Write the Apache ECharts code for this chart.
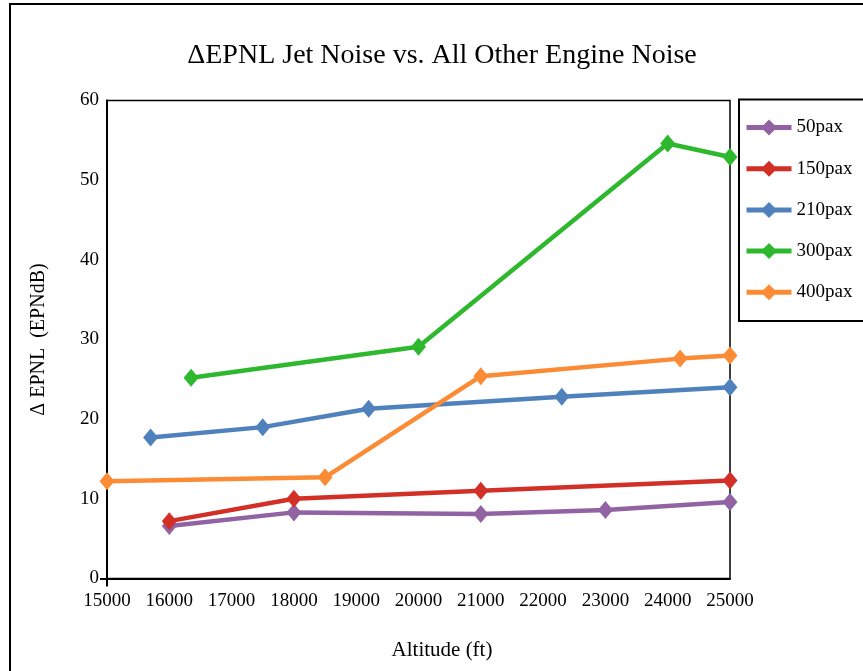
<!DOCTYPE html>
<html>
<head>
<meta charset="utf-8">
<script src="https://cdn.jsdelivr.net/npm/echarts@6/dist/echarts.min.js"></script>
<style>
html,body{margin:0;padding:0;background:#fff;}
#c{width:863px;height:671px;}
</style>
</head>
<body>
<div id="c"></div>
<script>
// ---- data ----
const seriesNames = ['50pax', '150pax', '210pax', '300pax', '400pax'];
const alt50  = [16000, 18000, 21000, 23000, 25000];
const val50  = [6.6, 8.3, 8.1, 8.6, 9.6];
const alt150 = [16000, 18000, 21000, 25000];
const val150 = [7.2, 10.0, 11.0, 12.3];
const alt210 = [15700, 17500, 19200, 22300, 25000];
const val210 = [17.7, 19.0, 21.3, 22.8, 24.0];
const alt300 = [16350, 20000, 24000, 25000];
const val300 = [25.2, 29.1, 54.6, 52.9];
const alt400 = [15000, 18500, 21000, 24200, 25000];
const val400 = [12.2, 12.7, 25.4, 27.6, 28.0];
const xTicks = [15000, 16000, 17000, 18000, 19000, 20000, 21000, 22000, 23000, 24000, 25000];
const yTicks = [0, 10, 20, 30, 40, 50, 60];

const altArrays = [alt50, alt150, alt210, alt300, alt400];
const valArrays = [val50, val150, val210, val300, val400];
const colors = ['#9163a3', '#d22f27', '#4f81bd', '#2eb82e', '#fb8c35'];

const FONT = '"Liberation Serif", "Times New Roman", serif';

const chart = echarts.init(document.getElementById('c'), null, {renderer: 'canvas'});

const series = seriesNames.map((name, i) => ({
  name: name,
  type: 'line',
  data: altArrays[i].map((a, j) => [a, valArrays[i][j]]),
  symbol: 'diamond',
  symbolSize: [15, 18],
  lineStyle: {width: 4.5, color: colors[i]},
  itemStyle: {color: colors[i]},
  emphasis: {disabled: true},
  z: 3 + i
}));

chart.setOption({
  animation: false,
  backgroundColor: '#fff',
  title: {
    text: 'ΔEPNL Jet Noise vs. All Other Engine Noise',
    left: 437, textAlign: 'center',
    top: 37,
    textStyle: {fontFamily: FONT, fontSize: 28, fontWeight: 'normal', color: '#000'}
  },
  legend: {
    orient: 'vertical',
    left: 739, top: 113,
    padding: 5,
    itemWidth: 45, itemHeight: 20, itemGap: 22.2,
    lineStyle: {width: 5},
    textStyle: {fontFamily: FONT, fontSize: 19, color: '#000'},
    data: seriesNames
  },
  grid: {
    left: 107, right: 133, top: 100.5, bottom: 92.5,
    show: true, borderColor: '#000', borderWidth: 1.5, backgroundColor: 'transparent'
  },
  xAxis: {
    type: 'value',
    min: xTicks[0], max: xTicks[xTicks.length - 1], interval: 1000,
    name: 'Altitude (ft)', nameLocation: 'middle', nameGap: 61,
    nameTextStyle: {fontFamily: FONT, fontSize: 21, color: '#000', padding: [0, 0, 0, 47]},
    axisLine: {show: true, onZero: false, lineStyle: {color: '#000', width: 2}},
    axisTick: {show: true, customValues: [xTicks[0]], length: 8, lineStyle: {color: '#000', width: 2}},
    axisLabel: {fontFamily: FONT, fontSize: 19, color: '#000', margin: 13,
      formatter: v => String(v)},
    splitLine: {show: true, showMinLine: false, showMaxLine: false,
      lineStyle: {color: '#222', type: [3, 3], width: 1}}
  },
  yAxis: {
    type: 'value',
    min: yTicks[0], max: yTicks[yTicks.length - 1], interval: 10,
    name: 'Δ EPNL  (EPNdB)', nameLocation: 'middle', nameGap: 58,
    nameTextStyle: {fontFamily: FONT, fontSize: 20, color: '#000'},
    axisLine: {show: true, onZero: false, lineStyle: {color: '#000', width: 2}},
    axisTick: {show: true, customValues: [yTicks[0]], length: 7, lineStyle: {color: '#000', width: 2}},
    axisLabel: {fontFamily: FONT, fontSize: 19, color: '#000', margin: 8},
    splitLine: {show: true, showMinLine: false, showMaxLine: false,
      lineStyle: {color: '#555', type: [4, 3], width: 1.5}}
  },
  graphic: [
    {type: 'rect', shape: {x: 10, y: 4, width: 860, height: 700},
     style: {fill: 'none', stroke: '#000', lineWidth: 2}, silent: true, z: 100},
    {type: 'rect', shape: {x: 739, y: 99.5, width: 130, height: 221.5},
     style: {fill: 'none', stroke: '#000', lineWidth: 2}, silent: true, z: 100}
  ],
  series: series
});
</script>
</body>
</html>
